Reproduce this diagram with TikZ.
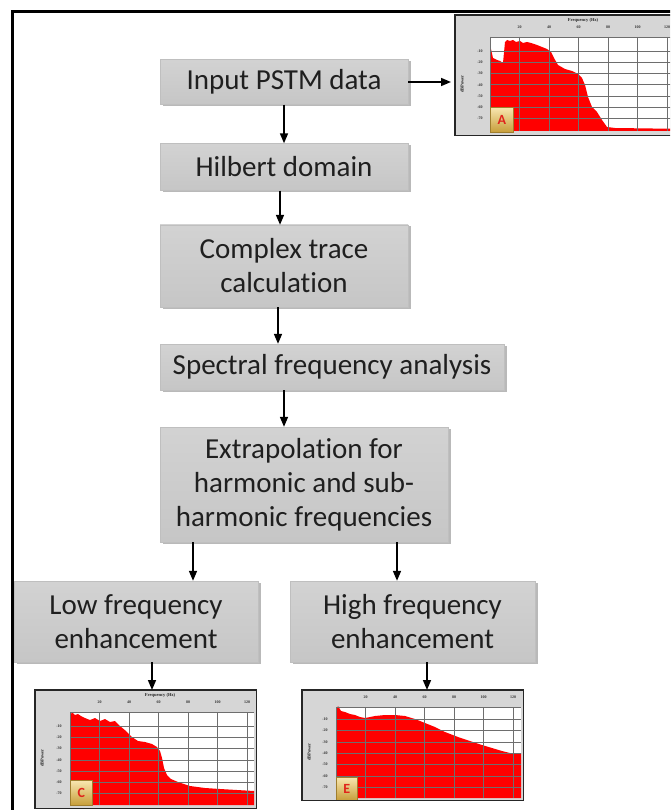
\documentclass[tikz,border=0pt]{standalone}
\usepackage{fontspec}
\setmainfont{Carlito}[Ligatures=CommonOff]
\newfontfamily\plotfont{Liberation Serif}
\usetikzlibrary{arrows.meta,shadows,calc}
\definecolor{specred}{HTML}{FF0000}
\definecolor{hdr}{HTML}{D6D6D6}
\definecolor{gridc}{HTML}{6E6E6E}
\definecolor{badgetop}{HTML}{F8E7B0}
\definecolor{badgebot}{HTML}{C79E3A}
\definecolor{badgetxt}{HTML}{E0241B}
\pgfdeclareverticalshading{boxshade}{100bp}{
  color(0bp)=(black!45); color(3bp)=(black!32); color(8bp)=(black!24);
  color(60bp)=(black!19); color(100bp)=(black!15)}
\tikzset{
 flowbox/.style={rectangle, shading=boxshade, draw=gray!50, line width=0.4pt,
   drop shadow={shadow xshift=2.5pt,shadow yshift=-1.5pt,opacity=0.55},
   align=center, font=\fontsize{29}{34}\selectfont, text=black!88, inner sep=0pt},
 arr/.style={-{Triangle[length=10pt,width=8pt]}, line width=1.6pt},
 chartframe/.style={rectangle, fill=hdr, inner sep=0pt, anchor=north west},
 chartborder/.style={draw=black!85, line width=1.6pt},
 gridline/.style={draw=gridc, line width=0.7pt},
 ticklab/.style={font=\plotfont\bfseries\fontsize{4}{4}\selectfont, text=black!80, inner sep=0pt},
 axlab/.style={font=\plotfont\bfseries\fontsize{4.5}{4.5}\selectfont, text=black!85, inner sep=0pt},
 badge/.style={rectangle, top color=badgetop, bottom color=badgebot, draw=badgebot!80!black,
   line width=0.6pt, inner sep=0pt, anchor=north west, font=\bfseries\fontsize{14}{14}\selectfont, text=badgetxt},
}
\begin{document}
\begin{tikzpicture}[x=1pt,y=-1pt]
\useasboundingbox (0,0) rectangle (670,810);
\fill[white] (0,0) rectangle (670,810);
\clip (0,0) rectangle (670,810);

% outer frame
\draw[line width=3pt] (12,815) -- (12,12) -- (675,12);

% ---------- flow boxes ----------
\node[flowbox, minimum width=248pt, minimum height=45pt] (b1) at (284,82) {Input PSTM data};
\node[flowbox, minimum width=248pt, minimum height=47pt] (b2) at (284,167) {Hilbert domain};
\node[flowbox, minimum width=248pt, minimum height=82pt] (b3) at (284,266) {Complex trace\\calculation};
\node[flowbox, minimum width=344pt, minimum height=46pt] (b4) at (332,367) {Spectral frequency analysis};
\node[flowbox, minimum width=288pt, minimum height=115pt] (b5) at (304,484.5) {Extrapolation for\\harmonic and sub-\\harmonic frequencies};
\node[flowbox, minimum width=244pt, minimum height=81pt] (b6) at (136,621.5) {Low frequency\\enhancement};
\node[flowbox, minimum width=245pt, minimum height=81pt] (b7) at (412.5,621.5) {High frequency\\enhancement};

% ---------- chart A ----------
\node[chartframe, minimum width=235pt, minimum height=120pt] (chA) at (455,15) {};
\fill[white] (490,37) rectangle (690,131);
\fill[specred] (490,131) -- (490,52) -- (491,49) -- (493,58) -- (497,60) -- (500,61) -- (503,63)
  -- (505,42) -- (507,40) -- (510,41) -- (513,40) -- (516,42) -- (520,41) -- (523,43) -- (527,42)
  -- (531,43) -- (537,45) -- (542,47) -- (547,49) -- (551,52) -- (554,58) -- (558,65) -- (565,69)
  -- (572,71) -- (578,74) -- (582,78) -- (585,85) -- (588,97) -- (592,107) -- (597,112)
  -- (602,120) -- (607,127) -- (615,128) -- (690,129) -- (690,131) -- cycle;
\foreach \x in {519.5,549,578.5,608,637.5,667} \draw[gridline] (\x,37) -- (\x,131);
\foreach \y in {51.2,62.4,73.6,84.8,96,107.2,118.4} \draw[gridline] (490,\y) -- (690,\y);
\draw[gridline] (490,37) -- (690,37);
\draw[gridline] (490,37) -- (490,131);
\foreach \x/\l [count=\i] in {519.5/20,549/40,578.5/60,608/80,637.5/100,667/120}
  \node[ticklab] (tA\i) at (\x,27) {\l};
\foreach \y/\l [count=\i] in {51.2/-10,62.4/-20,73.6/-30,84.8/-40,96/-50,107.2/-60,118.4/-70}
  \node[ticklab] (yA\i) at (480,\y) {\l};
\node[axlab] (fA) at (583,20) {Frequency (Hz)};
\node[axlab, rotate=90] (dA) at (462,84) {dBPower};
\node[badge, minimum width=23pt, minimum height=25pt] (bdA) at (490,107) {A};
\draw[chartborder] (chA.north west) rectangle (chA.south east);

% ---------- chart C ----------
\node[chartframe, minimum width=221pt, minimum height=118pt] (chC) at (35,690) {};
\fill[white] (70,712) rectangle (254,805);
\fill[specred] (70,805) -- (70,716) -- (72,712) -- (75,715) -- (78,714) -- (81,716) -- (85,718)
  -- (90,720) -- (95,718) -- (100,721) -- (105,719) -- (110,722) -- (115,721) -- (120,726)
  -- (126,731) -- (132,737) -- (138,741) -- (145,742) -- (152,744) -- (157,747) -- (160,751)
  -- (162,758) -- (164,768) -- (167,775) -- (171,779) -- (178,782) -- (190,786) -- (205,788)
  -- (220,789) -- (254,791) -- (254,805) -- cycle;
\foreach \x in {99.5,129,158.5,188,217.5,247} \draw[gridline] (\x,712) -- (\x,805);
\foreach \y in {726,737,748.5,760,771,782,793} \draw[gridline] (70,\y) -- (254,\y);
\draw[gridline] (70,712) -- (254,712);
\draw[gridline] (70,712) -- (70,805);
\foreach \x/\l [count=\i] in {99.5/20,129/40,158.5/60,188/80,217.5/100,247/120}
  \node[ticklab] (tC\i) at (\x,702) {\l};
\foreach \y/\l [count=\i] in {726/-10,737/-20,748.5/-30,760/-40,771/-50,782/-60,793/-70}
  \node[ticklab] (yC\i) at (59,\y) {\l};
\node[axlab] (fC) at (160,695) {Frequency (Hz)};
\node[axlab, rotate=90] (dC) at (42,758) {dBPower};
\node[badge, minimum width=22pt, minimum height=25pt] (bdC) at (70,780) {C};
\draw[chartborder] (chC.north west) rectangle (chC.south east);

% ---------- chart E ----------
\node[chartframe, minimum width=221pt, minimum height=110pt] (chE) at (302,690) {};
\fill[white] (336,707) rectangle (521,798);
\fill[specred] (336,798) -- (336,710) -- (338,706) -- (341,711) -- (345,712) -- (350,714)
  -- (355,715) -- (360,717) -- (365,718) -- (370,717) -- (375,716) -- (385,715) -- (395,715)
  -- (405,716) -- (415,719) -- (425,723) -- (435,727) -- (445,732) -- (458,737) -- (470,741)
  -- (482,745) -- (492,748) -- (502,751) -- (510,753) -- (521,753) -- (521,798) -- cycle;
\foreach \x in {365.5,395,424.5,454,483.5,513} \draw[gridline] (\x,707) -- (\x,798);
\foreach \y in {719,730.5,742,753,764.5,776,787} \draw[gridline] (336,\y) -- (521,\y);
\draw[gridline] (336,707) -- (521,707);
\draw[gridline] (336,707) -- (336,798);
\foreach \x/\l [count=\i] in {365.5/20,395/40,424.5/60,454/80,483.5/100,513/120}
  \node[ticklab] (tE\i) at (\x,697) {\l};
\foreach \y/\l [count=\i] in {719/-10,730.5/-20,742/-30,753/-40,764.5/-50,776/-60,787/-70}
  \node[ticklab] (yE\i) at (325,\y) {\l};
\node[axlab, rotate=90] (dE) at (309,752) {dBPower};
\node[badge, minimum width=21pt, minimum height=23pt] (bdE) at (336,777) {E};
\draw[chartborder] (chE.north west) rectangle (chE.south east);

% ---------- connectors ----------
\draw[arr] (b1.east) -- ([xshift=-4pt]b1.east -| chA.west);
\draw[arr] (b1.south) -- (b2.north);
\draw[arr] ([xshift=-4pt]b2.south) -- ([xshift=-4pt]b2.south |- b3.north);
\draw[arr] ([xshift=-6pt]b3.south) -- ([xshift=-6pt]b3.south |- b4.north);
\draw[arr] ([xshift=-48pt]b4.south) -- ([xshift=-48pt]b4.south |- b5.north);
\draw[arr] ([xshift=-111pt]b5.south) -- ([xshift=-111pt]b5.south |- b6.north);
\draw[arr] ([xshift=93pt]b5.south) -- ([xshift=93pt]b5.south |- b7.north);
\draw[arr] ([xshift=16pt]b6.south) -- ([xshift=16pt]b6.south |- chC.north);
\draw[arr] ([xshift=14.5pt]b7.south) -- ([xshift=14.5pt]b7.south |- chE.north);
\end{tikzpicture}
\end{document}
